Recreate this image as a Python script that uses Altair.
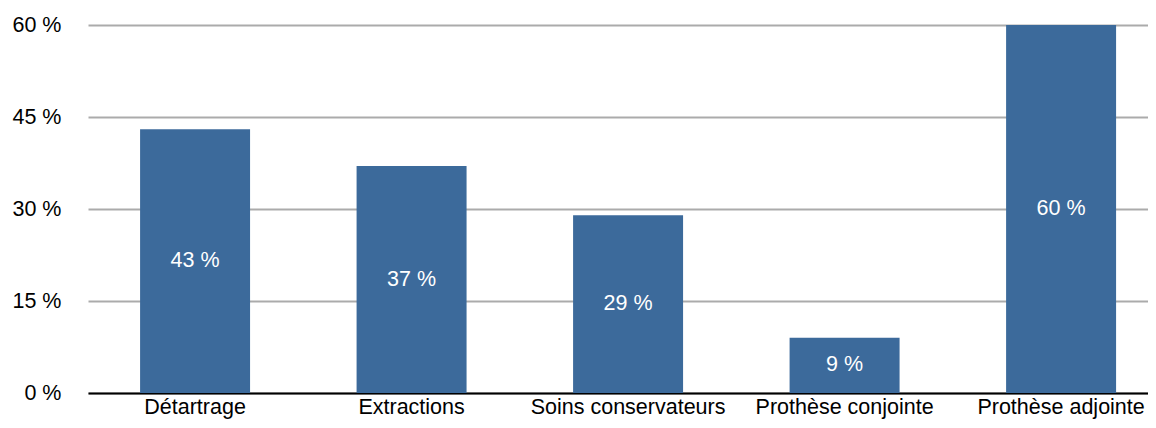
import altair as alt
import pandas as pd

categories = ["Détartrage", "Extractions", "Soins conservateurs", "Prothèse conjointe", "Prothèse adjointe"]
values = [43, 37, 29, 9, 60]
y_ticks = [0, 15, 30, 45, 60]

df = pd.DataFrame({"cat": categories, "val": values})
df["label"] = [f"{v} %" for v in values]

FONT = "Liberation Sans"
FS = 21.5

base = alt.Chart(df).encode(
    x=alt.X("cat:N", sort=categories, title=None,
            scale=alt.Scale(paddingInner=0.492, paddingOuter=0.194, align=0.62),
            axis=alt.Axis(labelAngle=0, labelFont=FONT, labelFontSize=FS, labelColor="#000",
                          labelPadding=3, labelLimit=0, ticks=False, domainColor="#000",
                          domainWidth=2, grid=False)),
)

bars = base.mark_bar(color="#3C6A9B").encode(
    y=alt.Y("val:Q", title=None,
            scale=alt.Scale(domain=[0, 60], nice=False),
            axis=alt.Axis(values=y_ticks, labelExpr="datum.value + ' %'", labelFont=FONT,
                          labelFontSize=FS, labelColor="#000", labelPadding=27, ticks=False,
                          domain=False, grid=True, gridColor="#ababab", gridWidth=2))
)

text = base.mark_text(color="white", font=FONT, fontSize=FS).encode(
    y=alt.Y("mid:Q"),
    text="label:N",
).transform_calculate(mid="datum.val / 2")

chart = (bars + text).properties(
    width=1060, height=368,
    autosize=alt.AutoSizeParams(type="none"),
    padding={"left": 80, "top": 17, "right": 0, "bottom": 27},
).configure_view(stroke=None).configure_axisX(labelFlush=False)

chart.save("out.html", embed_options={"renderer": "svg", "actions": False})
